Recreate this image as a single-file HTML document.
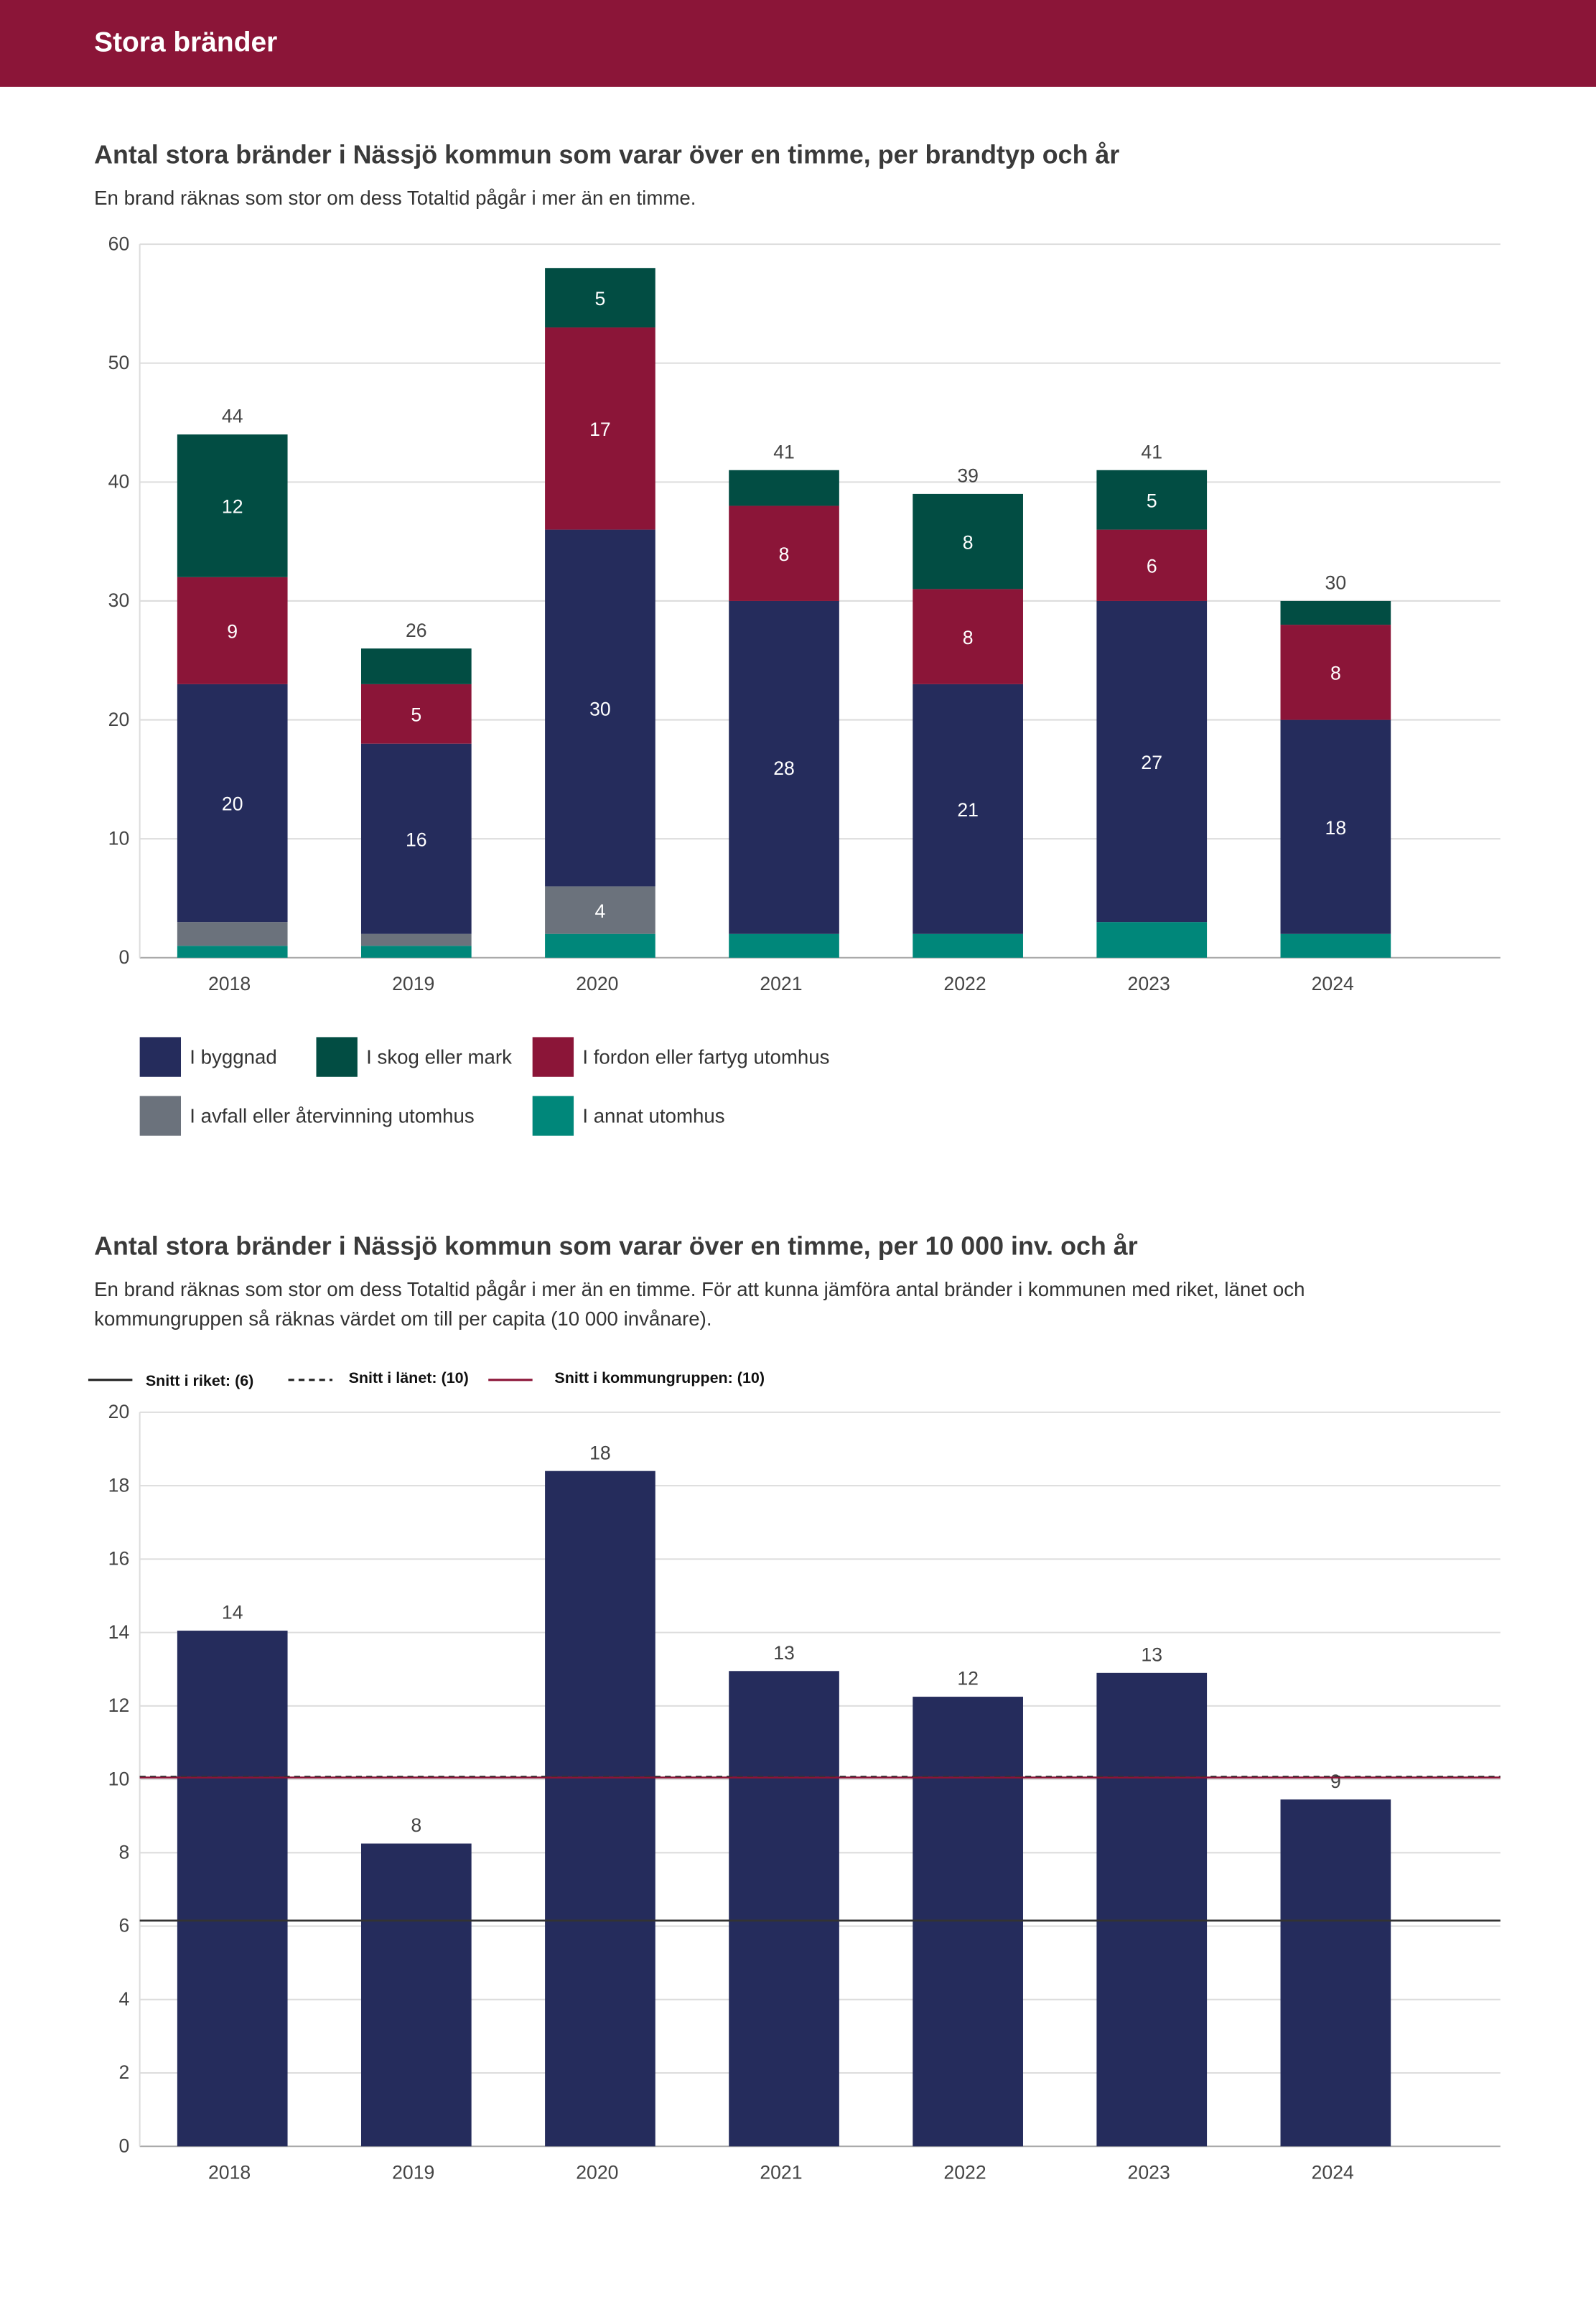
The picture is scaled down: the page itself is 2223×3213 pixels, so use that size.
<!DOCTYPE html>
<html><head><meta charset="utf-8"><style>
html,body{margin:0;padding:0;background:#fff;}
svg{display:block;font-family:"Liberation Sans",sans-serif;}
</style></head><body>
<svg id="root" width="2223" height="3213" viewBox="0 0 1085 1568.2" xmlns="http://www.w3.org/2000/svg">
<rect x="0" y="0" width="1085" height="59" fill="#8b1538"/>
<text x="64" y="35" font-size="19" font-weight="bold" fill="#fff">Stora bränder</text>

<text x="64" y="111" font-size="17.5" font-weight="bold" fill="#3a3a3a">Antal stora bränder i Nässjö kommun som varar över en timme, per brandtyp och år</text>
<text x="64" y="139" font-size="13.5" fill="#333">En brand räknas som stor om dess Totaltid pågår i mer än en timme.</text>
<g id="c1"></g>
<g>
<rect x="95" y="705" width="28" height="27" fill="#252c5c"/>
<text x="129" y="723" font-size="13.5" fill="#333">I byggnad</text>
<rect x="215" y="705" width="28" height="27" fill="#024d43"/>
<text x="249" y="723" font-size="13.5" fill="#333">I skog eller mark</text>
<rect x="362" y="705" width="28" height="27" fill="#8b1538"/>
<text x="396" y="723" font-size="13.5" fill="#333">I fordon eller fartyg utomhus</text>
<rect x="95" y="745" width="28" height="27" fill="#6b727c"/>
<text x="129" y="763" font-size="13.5" fill="#333">I avfall eller återvinning utomhus</text>
<rect x="362" y="745" width="28" height="27" fill="#00877a"/>
<text x="396" y="763" font-size="13.5" fill="#333">I annat utomhus</text>
</g>

<text x="64" y="853" font-size="17.5" font-weight="bold" fill="#3a3a3a">Antal stora bränder i Nässjö kommun som varar över en timme, per 10 000 inv. och år</text>
<text x="64" y="881" font-size="13.5" fill="#333">En brand räknas som stor om dess Totaltid pågår i mer än en timme. För att kunna jämföra antal bränder i kommunen med riket, länet och</text>
<text x="64" y="901" font-size="13.5" fill="#333">kommungruppen så räknas värdet om till per capita (10 000 invånare).</text>
<g>
<line x1="60" y1="938" x2="90" y2="938" stroke="#222" stroke-width="1.5"/>
<text x="99" y="942" font-size="10.5" font-weight="bold" fill="#111">Snitt i riket: (6)</text>
<line x1="196" y1="938" x2="226" y2="938" stroke="#222" stroke-width="1.5" stroke-dasharray="4,3"/>
<text x="237" y="940" font-size="10.5" font-weight="bold" fill="#111">Snitt i länet: (10)</text>
<line x1="332" y1="938" x2="362" y2="938" stroke="#8b1538" stroke-width="1.5"/>
<text x="377" y="940" font-size="10.5" font-weight="bold" fill="#111">Snitt i kommungruppen: (10)</text>
</g>
<g id="c2"></g>
</svg>
<script>
const years = ["2018","2019","2020","2021","2022","2023","2024"];
const annat = [1,1,2,2,2,3,2];
const avfall = [2,1,4,0,0,0,0];
const byggnad = [20,16,30,28,21,27,18];
const fordon = [9,5,17,8,8,6,8];
const skog = [12,3,5,3,8,5,2];
const ticks1 = [0,10,20,30,40,50,60];
const perCapita = [14.05,8.25,18.4,12.95,12.25,12.9,9.45];
const perCapitaLabels = ["14","8","18","13","12","13","9"];
const ticks2 = [0,2,4,6,8,10,12,14,16,18,20];
const snittRiket = 6.15;
const snittLanet = 10.05;
const snittKommungrupp = 10.05;

const NS = "http://www.w3.org/2000/svg";
function mk(parent, tag, attrs, text){
  const e = document.createElementNS(NS, tag);
  for (const k in attrs) e.setAttribute(k, attrs[k]);
  if (text !== undefined) e.textContent = text;
  parent.appendChild(e); return e;
}
const X0 = 95, X1 = 1020;
function xc(i){ return 158 + 125*i; }
const BW = 75;

// chart 1
const c1 = document.getElementById('c1');
function y1(v){ return 651 - v*(651-166)/60; }
ticks1.forEach(t=>{
  const l = mk(c1,'line',{x1:X0,x2:X1,y1:y1(t),y2:y1(t),stroke:t===0?'#aaa':'#ddd','stroke-width':1});
  
  
  const tx = mk(c1,'text',{x:88,y:y1(t)+4,'text-anchor':'end','font-size':13,fill:'#444'},String(t));
  
  
});
const ax1 = mk(c1,'line',{x1:X0,x2:X0,y1:166,y2:651,stroke:'#ddd','stroke-width':1});


const series = [["annat",annat,"#00877a"],["avfall",avfall,"#6b727c"],["byggnad",byggnad,"#252c5c"],["fordon",fordon,"#8b1538"],["skog",skog,"#024d43"]];
years.forEach((yr,i)=>{
  let base = 0;
  series.forEach(([nm,arr,col])=>{
    const v = arr[i];
    if (v>0){
      const r = mk(c1,'rect',{x:xc(i)-BW/2,y:y1(base+v),width:BW,height:y1(base)-y1(base+v),fill:col});
      
      
      if (v>=4){
        const t = mk(c1,'text',{x:xc(i),y:(y1(base)+y1(base+v))/2+5,'text-anchor':'middle','font-size':13,fill:'#fff'},String(v));
        
        
      }
    }
    base += v;
  });
  if (y1(base) > 190){
    const t = mk(c1,'text',{x:xc(i),y:y1(base)-8,'text-anchor':'middle','font-size':13,fill:'#444'},String(base));
    
    
  }
  const xl = mk(c1,'text',{x:xc(i)-2,y:673,'text-anchor':'middle','font-size':13,fill:'#444'},yr);
  
  
});

// chart 2
const c2 = document.getElementById('c2');
function y2(v){ return 1459 - v*(1459-960)/20; }
ticks2.forEach(t=>{
  const l = mk(c2,'line',{x1:X0,x2:X1,y1:y2(t),y2:y2(t),stroke:t===0?'#aaa':'#ddd','stroke-width':1});
  
  
  const tx = mk(c2,'text',{x:88,y:y2(t)+4,'text-anchor':'end','font-size':13,fill:'#444'},String(t));
  
  
});
const ax2 = mk(c2,'line',{x1:X0,x2:X0,y1:960,y2:1459,stroke:'#ddd','stroke-width':1});


years.forEach((yr,i)=>{
  const v = perCapita[i];
  const r = mk(c2,'rect',{x:xc(i)-BW/2,y:y2(v),width:BW,height:y2(0)-y2(v),fill:'#252c5c'});
  
  
  const t = mk(c2,'text',{x:xc(i),y:y2(v)-8,'text-anchor':'middle','font-size':13,fill:'#444'},perCapitaLabels[i]);
  
  
  const xl = mk(c2,'text',{x:xc(i)-2,y:1481,'text-anchor':'middle','font-size':13,fill:'#444'},yr);
  
  
});
const lr = mk(c2,'line',{x1:X0,x2:X1,y1:y2(snittRiket),y2:y2(snittRiket),stroke:'#333','stroke-width':1.3});


const lk = mk(c2,'line',{x1:X0,x2:X1,y1:y2(snittKommungrupp),y2:y2(snittKommungrupp),stroke:'#8b1538','stroke-width':1.3});


const ll = mk(c2,'line',{x1:X0,x2:X1,y1:y2(snittLanet)-0.8,y2:y2(snittLanet)-0.8,stroke:'#333','stroke-width':0.8,'stroke-dasharray':'4,3'});


</script>
</body></html>
